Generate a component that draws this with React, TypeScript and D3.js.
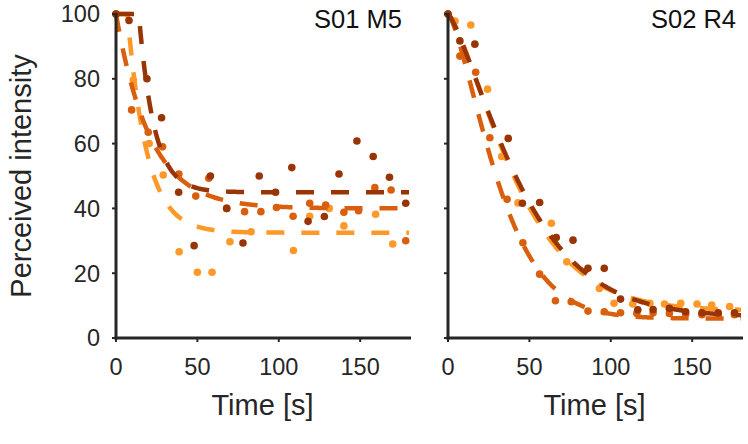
import React from "react";
import * as d3 from "d3";

// ---------- data ----------
const seriesNames = ["dark", "medium", "light"];
const seriesColors = ["#993404", "#d95f0e", "#fe9929"];

// Panel 1: S01 M5
const p1DarkT = [0, 8, 19, 28, 38.5, 48, 58, 68, 78, 88, 98, 108, 118, 128, 137, 148, 158, 168, 178];
const p1DarkV = [100, 98, 80, 68, 45, 28.5, 50, 40, 29.3, 50, 45, 52.6, 36, 37.5, 50.6, 60.8, 56, 49.6, 41.6];
const p1MedT = [0, 9.6, 19.8, 28.6, 38.6, 49, 57, 68, 79, 89, 98.6, 108.8, 119, 128.8, 140, 149, 159, 169, 178];
const p1MedV = [100, 70.4, 63.5, 59, 50.6, 43.8, 49.3, 40, 39, 39, 40.3, 37.6, 41.6, 41, 38.8, 39.3, 46.4, 45.7, 30];
const p1LightT = [0, 10.6, 20.4, 29, 38.8, 50, 59, 70, 83, 109, 119, 131, 140, 159.5, 170];
const p1LightV = [100, 79.6, 60, 50.3, 26.6, 20.3, 20.3, 29.7, 32.8, 27, 37.6, 40, 34.6, 38.2, 29];

// Panel 2: S02 R4
const p2DarkT = [0, 7.3, 16.5, 37, 45.7, 56.3, 66.5, 76.8, 86, 96, 106, 116.6, 126, 136, 146, 156, 166, 176];
const p2DarkV = [100, 91.7, 90.7, 61.6, 41.6, 41.8, 31, 30.2, 21.5, 21.5, 12, 8.7, 8.8, 9.2, 8.1, 7.8, 7.8, 7.8];
const p2MedT = [0, 7.3, 17, 25.7, 36.3, 46, 56.3, 66, 75.7, 86, 96, 106, 116, 126, 136, 146, 156, 166, 176];
const p2MedV = [100, 87, 82, 61.8, 42.8, 29.4, 19.7, 11.5, 11.2, 8.3, 8.1, 7.8, 7.6, 7.8, 7.6, 7.4, 7.2, 7.2, 7.2];
const p2LightT = [0, 4.3, 14, 24.3, 33, 43, 63.5, 73, 83, 93, 102, 113.5, 124, 133, 143, 153, 162, 173];
const p2LightV = [100, 97.8, 96.6, 76.8, 56, 41.7, 35.4, 23.5, 20.5, 15.3, 10.7, 10.5, 10.7, 10.5, 10.7, 10.5, 10.2, 9.7];

// Fit parameters [asymptote, delay, tau, exponent] per series (dark, medium, light)
const p1FitAsym = [45, 40, 32.5];
const p1FitDelay = [14, 0, 7];
const p1FitTau = [9.5, 21, 12];
const p1FitK = [1, 1, 1];
const p2FitAsym = [6.5, 6, 8.5];
const p2FitDelay = [0, 0, 0];
const p2FitTau = [51, 36, 48];
const p2FitK = [1.3, 1.4, 1.35];

const panelTitles = ["S01 M5", "S02 R4"];
const xTicks = [0, 50, 100, 150];
const yTicks = [0, 20, 40, 60, 80, 100];

// ---------- layout ----------
const W = 748, H = 444;
const axisColor = "#262626";
const font = "'Liberation Sans', Arial, sans-serif";
const plotTop = 14, plotBottom = 338;
const panels = [
  { x0: 116, x1: 409, title: panelTitles[0], titleX: 402,
    pts: [[p1DarkT, p1DarkV], [p1MedT, p1MedV], [p1LightT, p1LightV]],
    fit: [p1FitAsym, p1FitDelay, p1FitTau, p1FitK], yLabels: true },
  { x0: 448, x1: 741, title: panelTitles[1], titleX: 736,
    pts: [[p2DarkT, p2DarkV], [p2MedT, p2MedV], [p2LightT, p2LightV]],
    fit: [p2FitAsym, p2FitDelay, p2FitTau, p2FitK], yLabels: false },
];

function model(t: number, a: number, d: number, tau: number, k: number) {
  if (t <= d) return 100;
  return a + (100 - a) * Math.exp(-Math.pow((t - d) / tau, k));
}

export default function App() {
  const y = d3.scaleLinear().domain([0, 100]).range([plotBottom, plotTop]);
  const order = [2, 1, 0]; // light, medium, dark (dark on top)
  return (
    <svg width={W} height={H} style={{ position: "absolute", left: 0, top: 0, background: "#fff" }}
      fontFamily={font}>
      {panels.map((p, pi) => {
        const x = d3.scaleLinear().domain([0, 180]).range([p.x0, p.x1]);
        const ts = d3.range(0, 180.01, 0.5);
        return (
          <g key={pi}>
            {order.map((si) => {
              const [tArr, vArr] = p.pts[si];
              const [A, D, T, K] = p.fit;
              const line = d3.line<number>()
                .x((t) => x(t))
                .y((t) => y(model(t, A[si], D[si], T[si], K[si])));
              return (
                <g key={seriesNames[si]}>
                  {tArr.map((t, i) => (
                    <circle key={i} cx={x(t)} cy={y(vArr[i])} r={3.8} fill={seriesColors[si]} />
                  ))}
                  <path d={line(ts) || ""} fill="none" stroke={seriesColors[si]} strokeWidth={4.5}
                    strokeDasharray="18,17" />
                </g>
              );
            })}
            {/* axes */}
            <line x1={p.x0} x2={p.x0} y1={plotTop - 1} y2={plotBottom + 1.5} stroke={axisColor} strokeWidth={3} />
            <line x1={p.x0 - 1.5} x2={p.x1 + 2} y1={plotBottom} y2={plotBottom} stroke={axisColor} strokeWidth={3} />
            {yTicks.map((v) => (
              <g key={v}>
                <line x1={p.x0 - 4} x2={p.x0} y1={y(v)} y2={y(v)} stroke={axisColor} strokeWidth={2} />
                {p.yLabels && (
                  <text x={100} y={y(v)} dy="0.36em" textAnchor="end" fontSize={23.5} fill={axisColor}>{v}</text>
                )}
              </g>
            ))}
            {xTicks.map((v) => (
              <g key={v}>
                <line x1={x(v)} x2={x(v)} y1={plotBottom} y2={plotBottom + 4} stroke={axisColor} strokeWidth={2} />
                <text x={x(v)} y={375} textAnchor="middle" fontSize={23.5} fill={axisColor}>{v}</text>
              </g>
            ))}
            <text x={(p.x0 + p.x1) / 2} y={415} textAnchor="middle" fontSize={29} fill={axisColor}>Time [s]</text>
            <text x={p.titleX} y={28} textAnchor="end" fontSize={25.5} fill="#111">{p.title}</text>
          </g>
        );
      })}
      <text transform={`translate(31,176) rotate(-90)`} textAnchor="middle" fontSize={29} fill={axisColor}>
        Perceived intensity
      </text>
    </svg>
  );
}
